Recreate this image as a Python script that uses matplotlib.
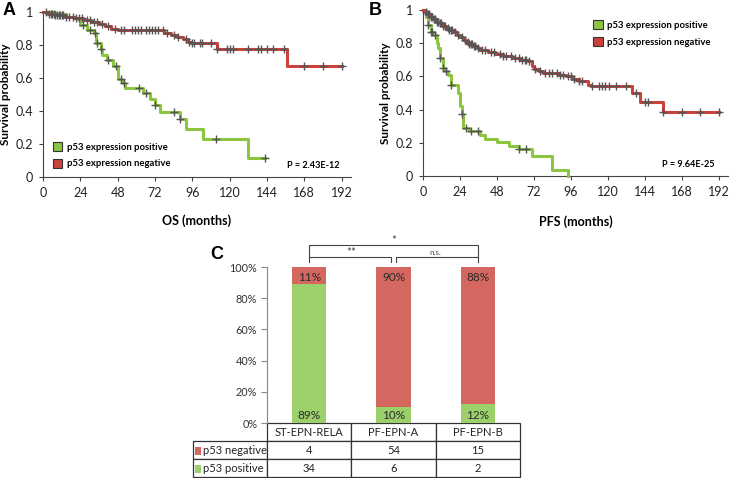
import numpy as np
import matplotlib
matplotlib.use("Agg")
import matplotlib.pyplot as plt
from matplotlib.patches import Patch, Rectangle

plt.rcParams['font.family'] = ['Lato', 'DejaVu Sans']

# ---- KM data: step times / survival after step, censor times ----
# A: overall survival
os_pos_t = [0, 8, 15, 20, 22, 24, 28, 33, 34, 37, 38, 41, 45, 48, 51, 53, 64, 69, 72, 75, 88, 92,
            103, 132, 143]
os_pos_s = [1.0, 0.985, 0.972, 0.962, 0.955, 0.92, 0.893, 0.87, 0.81, 0.775, 0.74, 0.71, 0.67,
            0.595, 0.57, 0.537, 0.507, 0.47, 0.436, 0.396, 0.35, 0.29, 0.23, 0.115, 0.115]
os_pos_cens = [26, 30, 33.5, 35, 37.5, 42, 47, 50, 52, 62, 66, 72, 84, 88, 111, 143]

os_neg_t = [0, 3, 8, 14, 20, 26, 31, 36, 40, 44, 48, 78, 82, 86, 90, 93, 95, 112, 157, 192]
os_neg_s = [1.0, 0.99, 0.98, 0.97, 0.963, 0.95, 0.94, 0.93, 0.917, 0.90, 0.89, 0.872, 0.862,
            0.848, 0.836, 0.82, 0.815, 0.775, 0.675, 0.675]
os_neg_cens = [2, 4, 5, 6, 7, 8, 9, 10, 11, 12, 13, 15, 17, 19, 21, 23, 25, 28, 30, 33, 35, 38,
               42, 46, 50, 52, 57, 59, 61, 63, 66, 68, 70, 72, 74, 77, 80, 84, 87, 92, 94, 96, 97,
               101, 102, 108, 112, 118, 120, 122, 132, 138, 140, 144, 148, 155, 168, 180, 192]

# B: progression-free survival
pfs_pos_t = [0, 2, 3, 5, 7, 9, 10, 11, 13, 14, 16, 18, 23, 24, 25, 26, 30, 37, 40, 48, 56, 62,
             71, 84, 94]
pfs_pos_s = [1.0, 0.955, 0.91, 0.87, 0.85, 0.80, 0.77, 0.71, 0.65, 0.63, 0.61, 0.55, 0.50, 0.42,
             0.376, 0.29, 0.27, 0.245, 0.225, 0.205, 0.18, 0.16, 0.12, 0.035, 0.0]
pfs_pos_cens = [3, 5, 6, 8, 11, 13, 15, 18, 25, 28, 31, 36, 62, 67]

pfs_neg_t = [0, 1, 3, 5, 7, 9, 11, 13, 15, 17, 20, 22, 24, 26, 28, 30, 33, 35, 37, 42, 47, 52,
             58, 63, 68, 71, 72, 75, 78, 88, 93, 97, 101, 107, 109, 136, 141, 156, 192]
pfs_neg_s = [1.0, 0.99, 0.975, 0.96, 0.945, 0.93, 0.92, 0.905, 0.89, 0.88, 0.865, 0.85, 0.835,
             0.82, 0.81, 0.795, 0.785, 0.77, 0.76, 0.75, 0.735, 0.72, 0.71, 0.70, 0.69, 0.665,
             0.645, 0.63, 0.62, 0.61, 0.60, 0.585, 0.573, 0.55, 0.545, 0.50, 0.448, 0.385, 0.385]
pfs_neg_cens = [2, 3, 4, 5, 6, 7, 8, 9, 10, 11, 12, 13, 14, 16, 17, 18, 19, 21, 23, 25, 27, 29,
                30, 31, 32, 33, 34, 36, 38, 40, 44, 46, 50, 52, 54, 57, 60, 62, 64, 66, 67, 69,
                73, 76, 79, 82, 84, 87, 89, 91, 94, 96, 98, 101, 103, 110, 114, 116, 118, 121,
                125, 132, 138, 144, 146, 156, 168, 180, 192]

# C: subgroup counts
groups = ["ST-EPN-RELA", "PF-EPN-A", "PF-EPN-B"]
n_neg = [4, 54, 15]
n_pos = [34, 6, 2]
pct_pos = [89, 10, 12]
pct_neg = [11, 90, 88]

GREEN = "#8cc541"
RED = "#c9423c"
BAR_GREEN = "#9bd06b"
BAR_RED = "#d4675f"
CENS = "#555555"


def km(ax, t, s, cens, color):
    t = np.asarray(t, float); s = np.asarray(s, float)
    ax.step(t, s, where="post", color=color, lw=2.2, clip_on=False, zorder=3)
    c = np.asarray(cens, float)
    cy = s[np.searchsorted(t, c, side="right") - 1]
    ax.plot(c, cy, ls="none", marker="+", ms=6, mew=1.0, color=CENS, clip_on=False, zorder=4)


def style_km(ax, xlabel, xpad):
    ax.set_xlim(0, 198); ax.set_ylim(0, 1)
    ax.set_xticks(range(0, 193, 24))
    ax.set_yticks([0, 0.2, 0.4, 0.6, 0.8, 1])
    ax.set_yticklabels(["0", "0.2", "0.4", "0.6", "0.8", "1"])
    for sp in ["top", "right"]:
        ax.spines[sp].set_visible(False)
    for sp in ["left", "bottom"]:
        ax.spines[sp].set_color("#444444"); ax.spines[sp].set_linewidth(0.8)
    ax.tick_params(length=3, width=0.8, color="#444444", labelsize=9, pad=4, labelcolor="#222222")
    ax.set_xlabel(xlabel, fontsize=9, fontweight="bold", labelpad=xpad)
    ax.set_ylabel("Survival probability", fontsize=8.5, fontweight="bold", labelpad=3)


fig = plt.figure(figsize=(7.32, 4.78), dpi=100)
leg_kw = dict(frameon=False, handlelength=1.0, handleheight=1.1, handletextpad=0.5,
              labelspacing=0.75, prop={"size": 6.8, "weight": "bold"})

# ---- A ----
axA = fig.add_axes([43 / 732, 1 - 177 / 478, 308 / 732, 165 / 478])
km(axA, os_pos_t, os_pos_s, os_pos_cens, GREEN)
km(axA, os_neg_t, os_neg_s, os_neg_cens, RED)
style_km(axA, "OS (months)", 11)
handles = [Patch(facecolor=GREEN, edgecolor="#333333", lw=0.8, label="p53 expression positive"),
           Patch(facecolor=RED, edgecolor="#333333", lw=0.8, label="p53 expression negative")]
axA.legend(handles=handles, loc="lower left", bbox_to_anchor=(0.005, 0.0), **leg_kw)
axA.text(0.964, 0.067, "P = 2.43E-12", transform=axA.transAxes, ha="right", va="center",
         fontsize=6.6, fontweight="bold")

# ---- B ----
axB = fig.add_axes([423 / 732, 1 - 176 / 478, 305 / 732, 166 / 478])
km(axB, pfs_pos_t, pfs_pos_s, pfs_pos_cens, GREEN)
km(axB, pfs_neg_t, pfs_neg_s, pfs_neg_cens, RED)
style_km(axB, "PFS (months)", 13)
axB.legend(handles=handles, loc="upper left", bbox_to_anchor=(0.53, 0.99), **leg_kw)
axB.text(0.957, 0.072, "P = 9.64E-25", transform=axB.transAxes, ha="right", va="center",
         fontsize=6.6, fontweight="bold")

# ---- C ----
axC = fig.add_axes([267 / 732, 1 - 423 / 478, 253 / 732, 156 / 478])
x = np.arange(len(groups))
fpos = np.array(pct_pos) / 100
fneg = np.array(pct_neg) / 100
axC.bar(x, fpos, width=0.41, color=BAR_GREEN)
axC.bar(x, fneg, width=0.41, bottom=fpos, color=BAR_RED)
for i in range(len(groups)):
    axC.text(x[i], 0.05, f"{pct_pos[i]}%", ha="center", va="center", fontsize=8.5, color="#2a2a2a")
    axC.text(x[i], 0.935, f"{pct_neg[i]}%", ha="center", va="center", fontsize=8.5, color="#2a2a2a")
axC.set_xlim(-0.5, 2.5); axC.set_ylim(0, 1)
axC.set_yticks(np.linspace(0, 1, 6))
axC.set_yticklabels([f"{v}%" for v in range(0, 101, 20)])
axC.set_xticks([])
for sp in ["top", "right", "bottom"]:
    axC.spines[sp].set_visible(False)
axC.spines["left"].set_color("#888888")
axC.tick_params(axis="y", length=4, color="#888888", labelsize=7.8, pad=3, labelcolor="#333333")

# significance brackets
bk = dict(color="#444444", lw=0.8, clip_on=False)
axC.plot([0, 0, 2, 2], [1.032, 1.141, 1.141, 1.032], **bk)
axC.plot([0, 0.97, 0.97], [1.064, 1.064, 1.032], **bk)
axC.plot([1.03, 1.03, 2, 2], [1.032, 1.064, 1.064, 1.064], **bk)
axC.text(1.0, 1.135, "*", ha="center", va="bottom", fontsize=8.5, color="#444444")
axC.text(0.5, 1.056, "**", ha="center", va="bottom", fontsize=8.5, color="#444444")
axC.text(1.5, 1.07, "n.s.", ha="center", va="bottom", fontsize=5.8, color="#444444")

# table below bars (bbox covers the data grid; row labels sit to its left)
cell_text = [[str(v) for v in n_neg], [str(v) for v in n_pos]]
tab = axC.table(cellText=cell_text, rowLabels=["p53 negative", "p53 positive"],
                colLabels=groups, colWidths=[1 / 3] * 3,
                cellLoc="center", rowLoc="left",
                bbox=[0, -54 / 156, 1, 54 / 156])
tab._autoColumns = []
tab.auto_set_font_size(False)
tab.set_fontsize(8)
for (r, c), cell in tab.get_celld().items():
    cell.set_edgecolor("#333333")
    cell.set_linewidth(0.9)
    cell.get_text().set_color("#222222")
    if c == -1:
        cell.set_width(74 / 253)
        cell.PAD = 0.13
for j, col in enumerate([BAR_RED, BAR_GREEN]):
    yc = (423 - 451 - 18 * j) / 156
    axC.add_patch(Rectangle((-1.354, yc - 0.023), 0.075, 0.046, facecolor=col,
                            edgecolor="none", clip_on=False))

# panel letters
for lbl, px, py in [("A", 3, 2), ("B", 369, 2), ("C", 210, 246)]:
    fig.text(px / 732, 1 - py / 478, lbl, ha="left", va="top", fontsize=13,
             fontweight="bold", family="Liberation Sans")

fig.savefig("out.png", dpi=100)
